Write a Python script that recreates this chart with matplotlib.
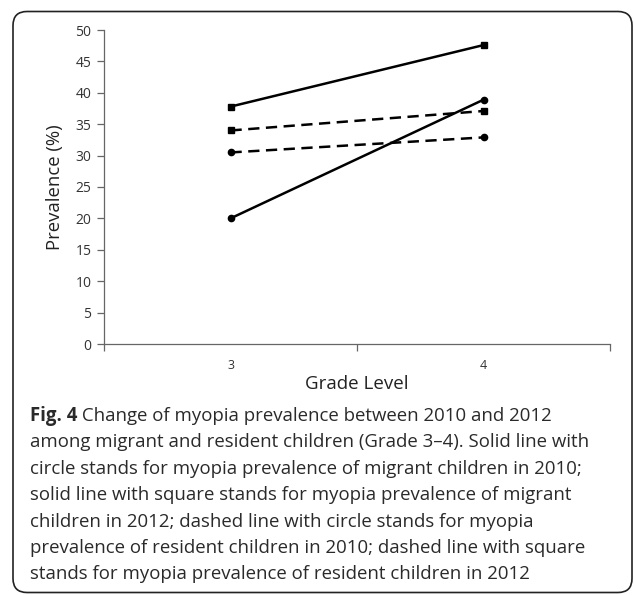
import matplotlib
matplotlib.use("Agg")
import matplotlib.pyplot as plt
from matplotlib.patches import FancyBboxPatch

# values (prevalence, %)
grades = ["3", "4"]
migrant_2010 = [20.0, 38.9]    # solid, circle
migrant_2012 = [37.8, 47.6]    # solid, square
resident_2010 = [30.5, 32.9]   # dashed, circle
resident_2012 = [34.0, 37.1]   # dashed, square

y_ticks = list(range(0, 51, 5))

caption_bold = "Fig. 4"
caption_first = " Change of myopia prevalence between 2010 and 2012"
caption_rest = [
    "among migrant and resident children (Grade 3\u20134). Solid line with",
    "circle stands for myopia prevalence of migrant children in 2010;",
    "solid line with square stands for myopia prevalence of migrant",
    "children in 2012; dashed line with circle stands for myopia",
    "prevalence of resident children in 2010; dashed line with square",
    "stands for myopia prevalence of resident children in 2012",
]

plt.rcParams["font.family"] = ["Open Sans", "DejaVu Sans"]

W, H = 634, 595
fig = plt.figure(figsize=(W / 100, H / 100), dpi=100)

# rounded frame around chart + caption (in inches, so corners stay round)
frame = FancyBboxPatch((0.13, 0.025), 6.19, 5.81,
                       boxstyle="round,pad=0,rounding_size=0.14",
                       transform=fig.dpi_scale_trans, fill=False,
                       edgecolor="#222222", linewidth=1.2)
fig.patches.append(frame)

ax = fig.add_axes([104 / W, 1 - 344 / H, (610 - 104) / W, (344 - 30) / H])

x = list(range(len(grades)))
dash = (4.5, 2.6)
ax.plot(x, migrant_2010, color="black", lw=1.8, marker="o", ms=4.5)
ax.plot(x, migrant_2012, color="black", lw=1.8, marker="s", ms=5)
ax.plot(x, resident_2010, color="black", lw=1.8, marker="o", ms=4.5,
        dashes=dash)
ax.plot(x, resident_2012, color="black", lw=1.8, marker="s", ms=5,
        dashes=dash)

ax.set_xlim(-0.5, len(grades) - 0.5)
ax.set_ylim(0, 50)
ax.set_yticks(y_ticks)

# category boundaries carry the tick marks, labels sit at centres
ax.set_xticks([i - 0.5 for i in range(len(grades) + 1)])
ax.set_xticklabels([])
ax.set_xticks(x, minor=True)
ax.set_xticklabels(grades, minor=True)
ax.tick_params(axis="x", which="major", length=5, width=0.9, color="#666666")
ax.tick_params(axis="x", which="minor", length=0, pad=11,
               labelsize=9, labelcolor="#333333")
ax.tick_params(axis="y", length=5, width=0.9, color="#666666",
               labelsize=10, labelcolor="#333333", pad=4)

for s in ["top", "right"]:
    ax.spines[s].set_visible(False)
for s in ["left", "bottom"]:
    ax.spines[s].set_color("#666666")
    ax.spines[s].set_linewidth(0.9)

ax.set_xlabel("Grade Level", fontsize=13.5, color="#222222", labelpad=2)
ax.set_ylabel("Prevalence (%)", fontsize=13.3, color="#222222", labelpad=8)

# caption
cap_x = 30 / W
cap_y0 = 1 - 416 / H
line_h = 26.4 / H
cap_size = 13.4
t_bold = fig.text(cap_x, cap_y0, caption_bold, fontsize=cap_size,
                  fontweight="bold", va="center", color="#2a2a2a")
fig.canvas.draw()
bb = t_bold.get_window_extent(renderer=fig.canvas.get_renderer())
fig.text(bb.x1 / W, cap_y0, caption_first, fontsize=cap_size,
         va="center", color="#2a2a2a")
for i, line in enumerate(caption_rest, start=1):
    fig.text(cap_x, cap_y0 - i * line_h, line, fontsize=cap_size,
             va="center", color="#2a2a2a")

fig.savefig("out.png", dpi=100)
